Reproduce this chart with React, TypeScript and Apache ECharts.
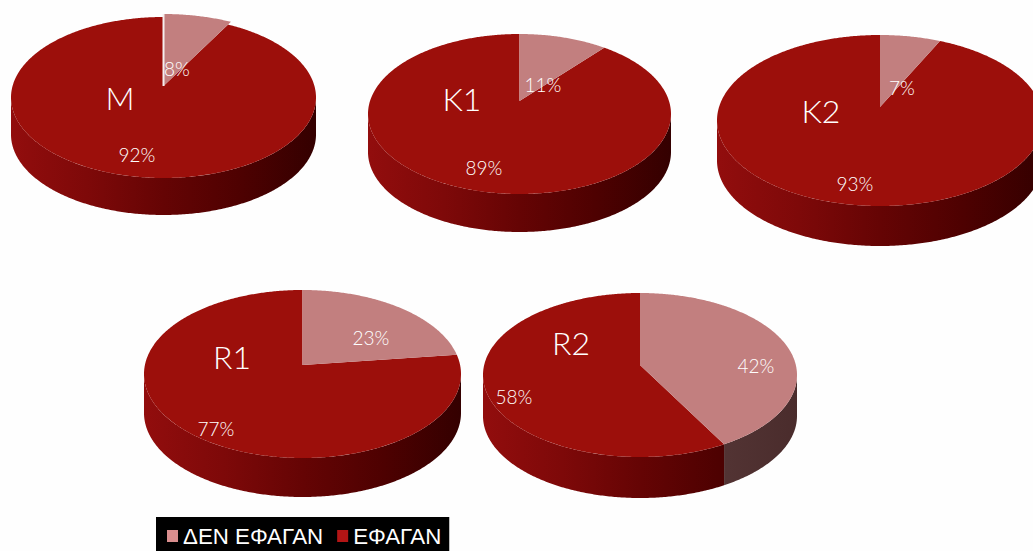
import React, { useEffect, useRef } from "react";
import * as echarts from "echarts";

// Share of each group, in percent
const groups = ["M", "K1", "K2", "R1", "R2"];
const didNotEat = [8, 11, 7, 23, 42];
const ate = [92, 89, 93, 77, 58];
const seriesNames = ["ΔΕΝ ΕΦΑΓΑΝ", "ΕΦΑΓΑΝ"];

// Placement of each tilted disc on the page: outline box, pivot height and wall depth
const discs = [
  { left: 11, right: 316, top: 17, bottom: 178, pivot: 86, depth: 37, lift: 1.05, nameAt: [120, 99], notAt: [177, 69], ateAt: [137, 155] },
  { left: 368, right: 671, top: 34, bottom: 194, pivot: 101, depth: 38, lift: 1, nameAt: [462, 100], notAt: [543, 85], ateAt: [484, 168] },
  { left: 717, right: 1043, top: 35, bottom: 206, pivot: 107, depth: 40, lift: 1, nameAt: [821, 112], notAt: [902, 88], ateAt: [855, 184] },
  { left: 144, right: 461, top: 290, bottom: 458, pivot: 365, depth: 39, lift: 1, nameAt: [232, 358], notAt: [371, 338], ateAt: [216, 429] },
  { left: 483, right: 797, top: 293, bottom: 457, pivot: 365, depth: 41, lift: 1, nameAt: [571, 344], notAt: [756, 366], ateAt: [514, 397] },
];

const LABEL_FONT = "Lato, 'Open Sans', sans-serif";

type Disc = (typeof discs)[number];

// Projects an angle (clockwise from the back of the disc) onto the tilted disc
function project(d: Disc, angle: number, scale = 1): [number, number] {
  const back = d.pivot - d.top;
  const front = d.bottom - d.pivot;
  const k = (front - back) / (front + back);
  const a = back * (1 + k);
  const halfWidth = ((d.right - d.left) / 2) * Math.sqrt(1 - k * k);
  const u = Math.sin(angle) * scale;
  const v = Math.cos(angle) * scale;
  const w = 1 + k * v;
  return [(d.left + d.right) / 2 + (halfWidth * u) / w, d.pivot - (a * v) / w];
}

// Angle at which the rim turns away from the viewer, on the right-hand side
function horizonAngle(d: Disc) {
  const back = d.pivot - d.top;
  const front = d.bottom - d.pivot;
  return Math.acos(-(front - back) / (front + back));
}

function arcPoints(d: Disc, from: number, to: number, scale = 1) {
  const steps = Math.max(2, Math.ceil(Math.abs(to - from) / 0.01));
  const pts: [number, number][] = [];
  for (let i = 0; i <= steps; i++) pts.push(project(d, from + ((to - from) * i) / steps, scale));
  return pts;
}

function wallGradient(d: Disc, stops: string[]) {
  return new echarts.graphic.LinearGradient(
    d.left, 0, d.right, 0,
    stops.map((color, i) => ({ offset: i / (stops.length - 1), color })),
    true
  );
}

function wall(d: Disc, from: number, to: number, stops: string[]) {
  const horizon = horizonAngle(d);
  const a = Math.max(from, horizon);
  const b = Math.min(to, Math.PI * 2 - horizon);
  if (b <= a) return [];
  const rim = arcPoints(d, a, b);
  const lower = rim.map(([x, y]) => [x, y + d.depth]).reverse();
  return [{ type: "polygon", shape: { points: [...rim, ...lower] }, style: { fill: wallGradient(d, stops) } }];
}

function label(text: string, at: number[], size: number) {
  return {
    type: "text",
    style: {
      text,
      x: at[0],
      y: at[1] - size * 0.05,
      fill: "#ffffff",
      font: `300 ${size}px ${LABEL_FONT}`,
      align: "center",
      verticalAlign: "middle",
    },
  };
}

const darkWall = ["#920d0d", "#7e0909", "#650404", "#4e0101", "#340000"];
const paleWall = ["#6a3a3a", "#644040", "#5d3a3a", "#533434", "#4a2c2c"];

function renderNotEaten(_params: any, api: any) {
  const d = discs[api.value(0)];
  const value = api.value(1);
  const end = (value / 100) * Math.PI * 2;
  const rim = arcPoints(d, 0, end, d.lift);
  const pivot: [number, number] = [(d.left + d.right) / 2, d.pivot];
  const children: any[] = [
    ...wall(d, 0, end, paleWall),
    { type: "polygon", shape: { points: [pivot, ...rim] }, style: { fill: "#c27f7f" } },
  ];
  if (d.lift > 1) {
    children.push({
      type: "line",
      shape: { x1: pivot[0], y1: pivot[1], x2: rim[0][0], y2: rim[0][1] },
      style: { stroke: "#f6eeee", lineWidth: 2 },
    });
  }
  children.push(label(`${value}%`, d.notAt, 19));
  return { type: "group", children };
}

function renderEaten(_params: any, api: any) {
  const index = api.value(0);
  const d = discs[index];
  const value = api.value(1);
  const start = ((100 - value) / 100) * Math.PI * 2;
  const rim = arcPoints(d, start, Math.PI * 2);
  const pivot: [number, number] = [(d.left + d.right) / 2, d.pivot];
  return {
    type: "group",
    children: [
      ...wall(d, start, Math.PI * 2, darkWall),
      { type: "polygon", shape: { points: [pivot, ...rim] }, style: { fill: "#9c0f0b" } },
      label(`${value}%`, d.ateAt, 19),
      label(groups[index], d.nameAt, 32),
    ],
  };
}

export default function App() {
  const ref = useRef<HTMLDivElement>(null);

  useEffect(() => {
    document.body.style.margin = "0";
    const chart = echarts.init(ref.current!, null, { renderer: "svg" });
    chart.setOption({
      animation: false,
      backgroundColor: "#fefefe",
      legend: {
        left: 156,
        top: 517,
        orient: "horizontal",
        backgroundColor: "#000000",
        padding: [8, 8, 4, 11],
        itemWidth: 11,
        itemHeight: 12,
        itemGap: 14,
        icon: "rect",
        data: [
          { name: seriesNames[0], itemStyle: { color: "#d98e8e" } },
          { name: seriesNames[1], itemStyle: { color: "#b31515" } },
        ],
        textStyle: { color: "#ffffff", fontFamily: "'Liberation Sans', Arial, sans-serif", fontSize: 22.3 },
      },
      // The larger share is drawn first so the pale slice and its label stay on top
      series: [
        {
          type: "custom",
          name: seriesNames[1],
          coordinateSystem: "none",
          silent: true,
          itemStyle: { color: "#b31515" },
          renderItem: renderEaten,
          data: ate.map((v, i) => [i, v]),
        },
        {
          type: "custom",
          name: seriesNames[0],
          coordinateSystem: "none",
          silent: true,
          itemStyle: { color: "#d98e8e" },
          renderItem: renderNotEaten,
          data: didNotEat.map((v, i) => [i, v]),
        },
      ],
    });
    return () => chart.dispose();
  }, []);

  return <div ref={ref} style={{ position: "absolute", left: 0, top: 0, width: 1033, height: 551 }} />;
}
